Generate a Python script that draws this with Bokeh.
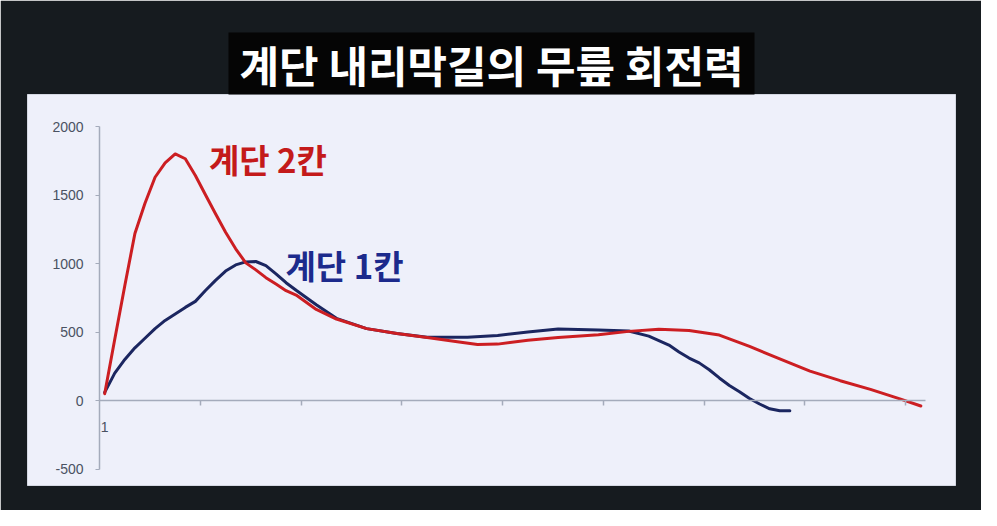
from bokeh.plotting import figure
from bokeh.models import Range1d, LinearAxis, FixedTicker, Label
from bokeh.embed import file_html
from bokeh.resources import INLINE

# ---- data ----
title_text = "계단 내리막길의 무릎 회전력"
series_names = ["계단 2칸", "계단 1칸"]

red_x = [1, 2, 3, 4, 5, 6, 7, 8, 9, 10, 11, 12, 13, 14, 15, 16, 17, 18, 19, 20, 22, 24,
         27, 30, 33, 36, 38, 40, 43, 46, 50, 53, 56, 59, 62, 65, 68, 71, 74, 77, 80, 82]
red_y = [50, 447, 840, 1220, 1440, 1630, 1735, 1800, 1765, 1643, 1502, 1364, 1229, 1108,
         1005, 954, 897, 850, 802, 770, 665, 595, 525, 490, 460, 430, 410, 412, 440, 460,
         480, 505, 520, 512, 478, 395, 305, 215, 145, 82, 10, -40]

blue_x = [1, 2, 3, 4, 5, 6, 7, 8, 9, 10, 11, 12, 13, 14, 15, 16, 17, 18, 19, 20, 22, 24,
          27, 30, 33, 37, 40, 43, 46, 50, 53, 55, 57, 58, 59, 60, 61, 62, 63, 64, 65, 66,
          67, 68, 69]
blue_y = [60, 200, 300, 385, 455, 525, 585, 632, 680, 724, 803, 877, 945, 990, 1012, 1015,
          985, 925, 860, 805, 700, 600, 525, 490, 462, 462, 475, 500, 522, 515, 508, 470,
          405, 355, 310, 275, 225, 165, 110, 65, 15, -25, -60, -75, -75]

y_ticks = [-500, 0, 500, 1000, 1500, 2000]
y_labels = {-500: "-500", 0: "0", 500: "500", 1000: "1000", 1500: "1500", 2000: "2000"}
x_tick_marks = [10.5, 20.5, 30.5, 40.5, 50.5, 60.5, 70.5, 80.5]
x_labels = {1: "1"}

# ---- figure ----
p = figure(width=981, height=510, output_backend="svg", toolbar_location=None,
           x_range=Range1d(-6.66, 85.44), y_range=Range1d(-620, 2234),
           x_axis_type=None, y_axis_type=None,
           min_border_left=27, min_border_right=26, min_border_top=94, min_border_bottom=25,
           background_fill_color="#eef0fa", border_fill_color="#161b1f",
           outline_line_color="#d4d8e2")

p.title.text = title_text
p.title.align = "center"
p.title.text_color = "#ffffff"
p.title.text_font = "Noto Sans CJK KR"
p.title.text_font_style = "bold"
p.title.text_font_size = "43px"
p.title.background_fill_color = "#050505"
p.title.padding = dict(left=11, right=11, top=0, bottom=0)
p.title.standoff = 0

axis_col = "#a4abbb"
lab_col = "#4a5262"

yax = LinearAxis(fixed_location=0.5, bounds=(-500, 2000), ticker=FixedTicker(ticks=y_ticks),
                 major_label_overrides=y_labels,
                 axis_line_color=axis_col, axis_line_width=1.5,
                 major_tick_line_color=axis_col, major_tick_out=4, major_tick_in=0,
                 minor_tick_line_color=None,
                 major_label_text_font="Liberation Sans", major_label_text_font_size="14px",
                 major_label_text_color=lab_col, major_label_standoff=12)
p.add_layout(yax, "left")

xax = LinearAxis(fixed_location=0, bounds=(0.5, 82.5),
                 ticker=FixedTicker(ticks=list(x_labels.keys()), minor_ticks=x_tick_marks),
                 major_label_overrides=x_labels,
                 axis_line_color=axis_col, axis_line_width=1.5,
                 major_tick_line_color=None, major_tick_out=0, major_tick_in=0,
                 minor_tick_line_color=axis_col, minor_tick_out=5, minor_tick_in=0,
                 minor_tick_line_width=1.5,
                 major_label_text_font="Liberation Sans", major_label_text_font_size="14px",
                 major_label_text_color=lab_col, major_label_standoff=16)
p.add_layout(xax, "below")

p.line(blue_x, blue_y, line_color="#1b2660", line_width=3, line_join="round", line_cap="round")
p.line(red_x, red_y, line_color="#cc1e22", line_width=3, line_join="round", line_cap="round")

p.add_layout(Label(x=17.2, y=1760, text=series_names[0], text_color="#c41a1a",
                   text_font="Noto Sans CJK KR", text_font_style="bold", text_font_size="33px",
                   text_align="center", text_baseline="middle"))
p.add_layout(Label(x=24.8, y=990, text=series_names[1], text_color="#1c2a8c",
                   text_font="Noto Sans CJK KR", text_font_style="bold", text_font_size="33px",
                   text_align="center", text_baseline="middle"))

open("out.html", "w").write(file_html(p, INLINE))
